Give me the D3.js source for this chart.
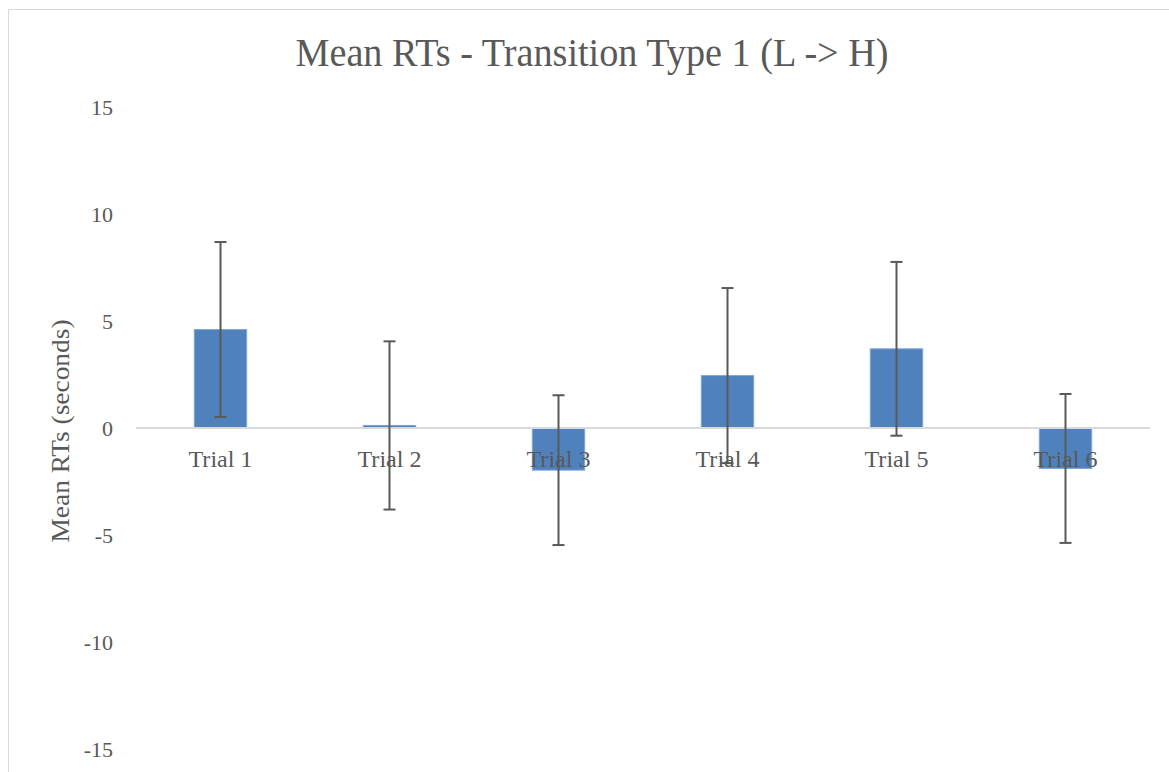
<!doctype html>
<html>
<head>
<meta charset="utf-8">
<title>Mean RTs</title>
<script src="https://cdn.jsdelivr.net/npm/d3@7"></script>
<style>
  body { margin: 0; background: #fff; }
  text { font-family: "Liberation Serif", "DejaVu Serif", serif; fill: #595959; }
</style>
</head>
<body>
<svg width="1169" height="772"></svg>
<script>
var trials = ["Trial 1", "Trial 2", "Trial 3", "Trial 4", "Trial 5", "Trial 6"];
var means = [4.6, 0.12, -1.97, 2.45, 3.7, -1.89];
var errors = [4.09, 3.93, 3.5, 4.09, 4.06, 3.48];
var yTicks = [15, 10, 5, 0, -5, -10, -15];

var svg = d3.select("svg");

// chart frame
svg.append("rect")
    .attr("x", 8.5).attr("y", 9.5)
    .attr("width", 1180).attr("height", 800)
    .attr("fill", "none").attr("stroke", "#d9d9d9");

var x = d3.scaleBand().domain(trials).range([136, 1150]).paddingInner(0.69).paddingOuter(0.345);
var y = d3.scaleLinear().domain([-15, 15]).range([749, 107]);

svg.append("text")
    .attr("x", 592).attr("y", 66)
    .attr("text-anchor", "middle")
    .attr("textLength", 593).attr("lengthAdjust", "spacingAndGlyphs")
    .style("font-size", "40px")
    .text("Mean RTs - Transition Type 1 (L -> H)");

// y tick labels
svg.selectAll(".ytick").data(yTicks).enter().append("text")
    .attr("class", "ytick")
    .attr("x", 113).attr("y", function(d) { return y(d) + 8; })
    .attr("text-anchor", "end")
    .style("font-size", "22px")
    .text(function(d) { return d; });

svg.append("text")
    .attr("transform", "translate(69," + 431 + ") rotate(-90)")
    .attr("text-anchor", "middle")
    .attr("textLength", 223).attr("lengthAdjust", "spacingAndGlyphs")
    .style("font-size", "25px")
    .text("Mean RTs (seconds)");

// bars
svg.selectAll(".bar").data(means).enter().append("rect")
    .attr("class", "bar")
    .attr("x", function(d, i) { return x(trials[i]); })
    .attr("width", x.bandwidth())
    .attr("y", function(d) { return y(Math.max(0, d)); })
    .attr("height", function(d) { return Math.max(1, Math.abs(y(d) - y(0))); })
    .attr("fill", "#4f81bd")
    .attr("stroke", "#7ea6d6").attr("stroke-width", 1);

// zero line
svg.append("line")
    .attr("x1", 136).attr("x2", 1150)
    .attr("y1", y(0)).attr("y2", y(0))
    .attr("stroke", "#d9d9d9").attr("stroke-width", 2);

// category labels
svg.selectAll(".xlab").data(trials).enter().append("text")
    .attr("class", "xlab")
    .attr("x", function(d) { return x(d) + x.bandwidth() / 2; })
    .attr("y", 467)
    .attr("text-anchor", "middle")
    .attr("textLength", 64).attr("lengthAdjust", "spacingAndGlyphs")
    .style("font-size", "23px")
    .text(function(d) { return d; });

// error bars
var eb = svg.selectAll(".err").data(means).enter().append("g")
    .attr("class", "err")
    .attr("stroke", "#595959").attr("stroke-width", 2);
eb.append("line")
    .attr("x1", function(d, i) { return x(trials[i]) + x.bandwidth() / 2; })
    .attr("x2", function(d, i) { return x(trials[i]) + x.bandwidth() / 2; })
    .attr("y1", function(d, i) { return y(d + errors[i]); })
    .attr("y2", function(d, i) { return y(d - errors[i]); });
[1, -1].forEach(function(s) {
  eb.append("line")
      .attr("x1", function(d, i) { return x(trials[i]) + x.bandwidth() / 2 - 6; })
      .attr("x2", function(d, i) { return x(trials[i]) + x.bandwidth() / 2 + 6; })
      .attr("y1", function(d, i) { return y(d + s * errors[i]); })
      .attr("y2", function(d, i) { return y(d + s * errors[i]); });
});
</script>
</body>
</html>
